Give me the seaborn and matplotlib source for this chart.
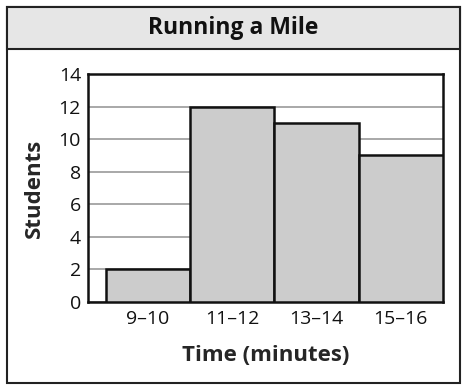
import pandas as pd
import seaborn as sns
import matplotlib.pyplot as plt
from matplotlib.patches import Rectangle

# data
times = ['9–10', '11–12', '13–14', '15–16']
students = [2, 12, 11, 9]
yticks = [0, 2, 4, 6, 8, 10, 12, 14]

df = pd.DataFrame({'Time': times, 'Students': students})

sns.set_style('white')
plt.rcParams['font.family'] = ['Open Sans', 'DejaVu Sans']

W, H = 467, 390
fig = plt.figure(figsize=(W / 100, H / 100), dpi=100)

# outer frame and grey header band
fig.patches.append(Rectangle((7 / W, 1 - 383 / H), 453 / W, 376 / H, transform=fig.transFigure,
                             facecolor='white', edgecolor='#222222', linewidth=1.5, zorder=-2))
fig.patches.append(Rectangle((7 / W, 1 - 49 / H), 453 / W, 42 / H, transform=fig.transFigure,
                             facecolor='#e6e6e6', edgecolor='#222222', linewidth=1.5, zorder=-1))
fig.text(0.5, 1 - 28 / H, 'Running a Mile', ha='center', va='center',
         fontsize=16.5, fontweight='bold', color='#111111')

ax = fig.add_axes([88 / W, 1 - 302 / H, 355 / W, 228 / H])
ax.set_zorder(5)
ax.set_facecolor('none')
sns.barplot(data=df, x='Time', y='Students', color='#cccccc', edgecolor='#111111',
            linewidth=1.8, width=1.0, saturation=1, ax=ax, zorder=3)

ax.set_ylim(0, 14)
ax.set_xlim(-0.71, 3.5)
ax.set_yticks(yticks)
ax.yaxis.grid(True, color='#999999', linewidth=1.2, zorder=0)
ax.set_axisbelow(True)
for s in ax.spines.values():
    s.set_color('#111111')
    s.set_linewidth(1.8)
ax.tick_params(axis='both', length=0, labelsize=14, colors='#111111')
ax.tick_params(axis='x', pad=6)
ax.tick_params(axis='y', pad=5)
ax.set_xlabel('Time (minutes)', fontsize=16, fontweight='bold', labelpad=12)
ax.set_ylabel('Students', fontsize=16, fontweight='bold', labelpad=10)

plt.savefig('out.png', dpi=100)
